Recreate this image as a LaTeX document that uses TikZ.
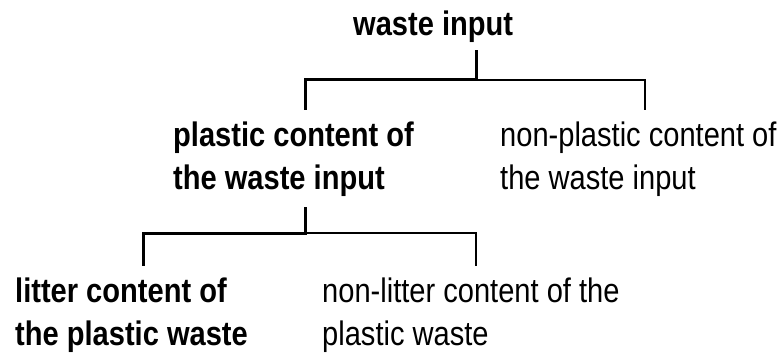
\documentclass[tikz,border=0pt]{standalone}
\usepackage{fontspec}
\setmainfont{Liberation Sans}[FakeStretch=0.855]
\usepackage{tikz}

\begin{document}
\begin{tikzpicture}[
  x=1pt, y=1pt,
  leaf/.style={inner sep=0pt, outer ysep=11pt, align=left, anchor=base west,
               font=\fontsize{34}{43}\selectfont},
  leafbold/.style={leaf, font=\fontsize{34}{43}\selectfont\bfseries},
  trunk/.style={line width=3pt, draw=black},
  twig/.style={line width=1.3pt, draw=black}]
\useasboundingbox (0,0) rectangle (782,-353);
\node[leafbold, outer ysep=7pt] (top) at (353,-36) {waste input};
\node[leafbold] (plastic) at (173,-189) {plastic content of\\the waste input};
\node[leaf] (nonplastic) at (500,-189) {non-plastic content of\\the waste input};
\node[leafbold] (litter) at (15,-345) {litter content of\\the plastic waste};
\node[leaf] (nonlitter) at (322,-345) {non-litter content of the\\plastic waste};
% forks and elbows
\coordinate (fork1) at (476,-80);
\coordinate (fork2) at (305,-233);
\path (305,-80) coordinate (elbowL1) (645,-80) coordinate (elbowR1)
      (143,-233) coordinate (elbowL2) (476,-233) coordinate (elbowR2);
\draw[trunk] (top.south -| fork1) -- (fork1) -- (elbowL1) -- (plastic.north -| elbowL1);
\draw[twig] (fork1) -- (elbowR1) -- (nonplastic.north -| elbowR1);
\draw[trunk] (plastic.south -| fork2) -- (fork2) -- (elbowL2) -- (litter.north -| elbowL2);
\draw[twig] (fork2) -- (elbowR2) -- (nonlitter.north -| elbowR2);
\end{tikzpicture}
\end{document}
